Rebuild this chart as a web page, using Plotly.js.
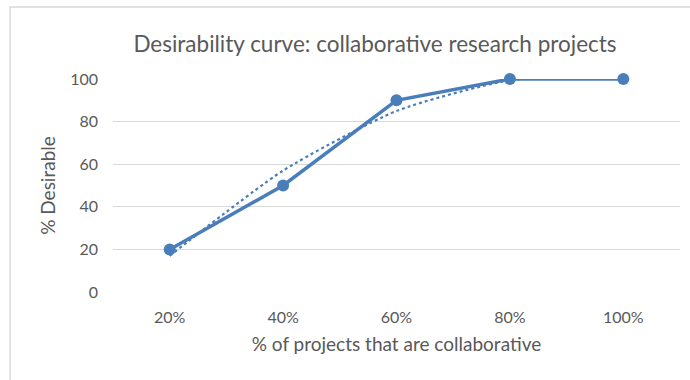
<!DOCTYPE html>
<html>
<head>
<meta charset="utf-8">
<script src="https://cdn.plot.ly/plotly-3.0.1.min.js"></script>
<style>
  html, body { margin: 0; padding: 0; background: #ffffff; }
  #chart { width: 690px; height: 380px; }
</style>
</head>
<body>
<div id="chart"></div>
<script>
// Data
const categories = ["20%", "40%", "60%", "80%", "100%"];
const desirable = [20, 50, 90, 100, 100];
// Dotted trendline, values at each category
const trendValues = [17, 57, 85, 99.4, 101];
const yTicks = [0, 20, 40, 60, 80, 100];

const blue = "#4a7ebb";
const gray = "#595959";
const fontFamily = "Lato, 'Open Sans', sans-serif";

const traces = [
  {
    x: categories,
    y: trendValues,
    type: "scatter",
    mode: "lines",
    line: { color: blue, width: 2.2, dash: "dot", shape: "spline", smoothing: 0.6 },
    hoverinfo: "skip",
    cliponaxis: false,
    showlegend: false
  },
  {
    x: categories,
    y: desirable,
    type: "scatter",
    mode: "lines+markers",
    line: { color: blue, width: 3.5 },
    marker: { color: blue, size: 12 },
    cliponaxis: false,
    showlegend: false
  }
];

const layout = {
  width: 690,
  height: 380,
  margin: { l: 113, r: 10, t: 79, b: 88 },
  paper_bgcolor: "#ffffff",
  plot_bgcolor: "#ffffff",
  font: { family: fontFamily, color: gray, size: 16 },
  title: {
    text: "Desirability curve: collaborative research projects",
    font: { family: fontFamily, size: 22.5, color: gray },
    x: 375 / 690,
    xanchor: "center",
    xref: "container",
    y: 1 - 44 / 380,
    yanchor: "middle",
    yref: "container"
  },
  xaxis: {
    type: "category",
    categoryorder: "array",
    categoryarray: categories,
    range: [-0.5, 4.5],
    showgrid: false,
    zeroline: false,
    showline: false,
    ticks: "",
    ticklabelstandoff: 14,
    tickfont: { family: fontFamily, size: 16, color: gray },
    title: {
      text: "% of projects that are collaborative",
      font: { family: fontFamily, size: 19, color: gray },
      standoff: 12
    },
    fixedrange: true
  },
  yaxis: {
    range: [0, 100],
    tickvals: yTicks,
    ticktext: yTicks.map(String),
    showgrid: true,
    gridcolor: "#d9d9d9",
    gridwidth: 1,
    zeroline: false,
    showline: false,
    ticks: "",
    ticklabelstandoff: 14,
    tickfont: { family: fontFamily, size: 16, color: gray },
    title: {
      text: "% Desirable",
      font: { family: fontFamily, size: 19, color: gray },
      standoff: 9
    },
    fixedrange: true
  },
  shapes: [
    {
      type: "rect",
      xref: "paper",
      yref: "paper",
      x0: (10 - 113) / 567,
      x1: (720 - 113) / 567,
      y0: (292 - 420) / 213,
      y1: (292 - 7) / 213,
      line: { color: "#d9d9d9", width: 1.5 },
      fillcolor: "rgba(0,0,0,0)",
      layer: "below"
    }
  ]
};

Plotly.newPlot("chart", traces, layout, { displayModeBar: false, staticPlot: true });
</script>
</body>
</html>
